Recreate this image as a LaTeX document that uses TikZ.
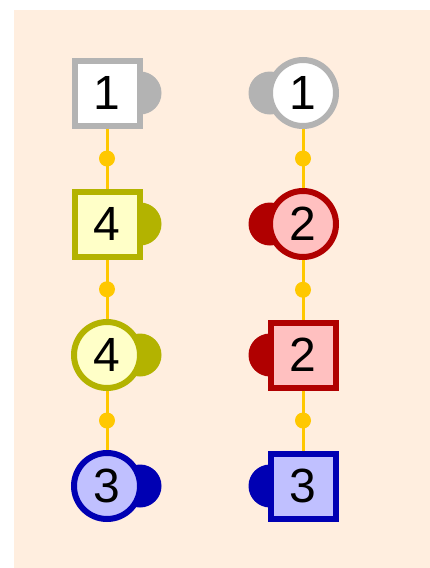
\documentclass[tikz,border=0pt]{standalone}
\usepackage{fontspec}
\setmainfont{Liberation Sans}
\usepackage{xcolor}
\usetikzlibrary{positioning, backgrounds}
\definecolor{bgpeach}{HTML}{FFEEDF}
\definecolor{linkgold}{HTML}{FFC800}
\definecolor{greyedge}{HTML}{B3B3B3}
\definecolor{greyfill}{HTML}{FFFFFF}
\definecolor{oliveedge}{HTML}{B3B300}
\definecolor{olivefill}{HTML}{FFFFC8}
\definecolor{rededge}{HTML}{B00000}
\definecolor{redfill}{HTML}{FFC0C0}
\definecolor{blueedge}{HTML}{0000B3}
\definecolor{bluefill}{HTML}{C0C0FF}

\begin{document}
\begin{tikzpicture}[
    x=1pt, y=-1pt,
    sqbox/.style={rectangle, draw=#1edge, fill=#1fill, line width=6pt,
                  minimum size=65pt, inner sep=0pt, font=\fontsize{48}{56}\selectfont},
    rdbox/.style={circle, draw=#1edge, fill=#1fill, line width=6pt,
                  minimum size=66pt, inner sep=0pt, font=\fontsize{48}{56}\selectfont},
    tab/.style={circle, fill=#1edge, minimum size=43pt, inner sep=0pt},
    link/.style={draw=linkgold, line width=3pt},
    joint/.style={circle, fill=linkgold, minimum size=16pt, inner sep=0pt},
]
\useasboundingbox (0,0) rectangle (430,568);

% Left column
\node[sqbox=grey] (l1) at (107,93) {1};
\node[sqbox=olive] (l2) at (107,224) {4};
\node[rdbox=olive] (l3) at (107,355) {4};
\node[rdbox=blue] (l4) at (107,486) {3};

% Right column
\node[rdbox=grey] (r1) at (303,93) {1};
\node[rdbox=red] (r2) at (303,224) {2};
\node[sqbox=red] (r3) at (303,355) {2};
\node[sqbox=blue] (r4) at (303,486) {3};

% Links
\draw[link] (l1) -- node[joint] {} (l2);
\draw[link] (l2) -- node[joint] {} (l3);
\draw[link] (l3) -- node[joint] {} (l4);
\draw[link] (r1) -- node[joint] {} (r2);
\draw[link] (r2) -- node[joint] {} (r3);
\draw[link] (r3) -- node[joint] {} (r4);

% Tabs behind the boxes
\begin{scope}[on background layer]
\fill[bgpeach] (14,10) rectangle (430,568);
\node[tab=grey] (l1tab) at ([xshift=33pt]l1.center) {};
\node[tab=olive] (l2tab) at ([xshift=33pt]l2.center) {};
\node[tab=olive] (l3tab) at ([xshift=33pt]l3.center) {};
\node[tab=blue] (l4tab) at ([xshift=33pt]l4.center) {};
\node[tab=grey] (r1tab) at ([xshift=-33pt]r1.center) {};
\node[tab=red] (r2tab) at ([xshift=-33pt]r2.center) {};
\node[tab=red] (r3tab) at ([xshift=-33pt]r3.center) {};
\node[tab=blue] (r4tab) at ([xshift=-33pt]r4.center) {};
\end{scope}

\end{tikzpicture}
\end{document}
